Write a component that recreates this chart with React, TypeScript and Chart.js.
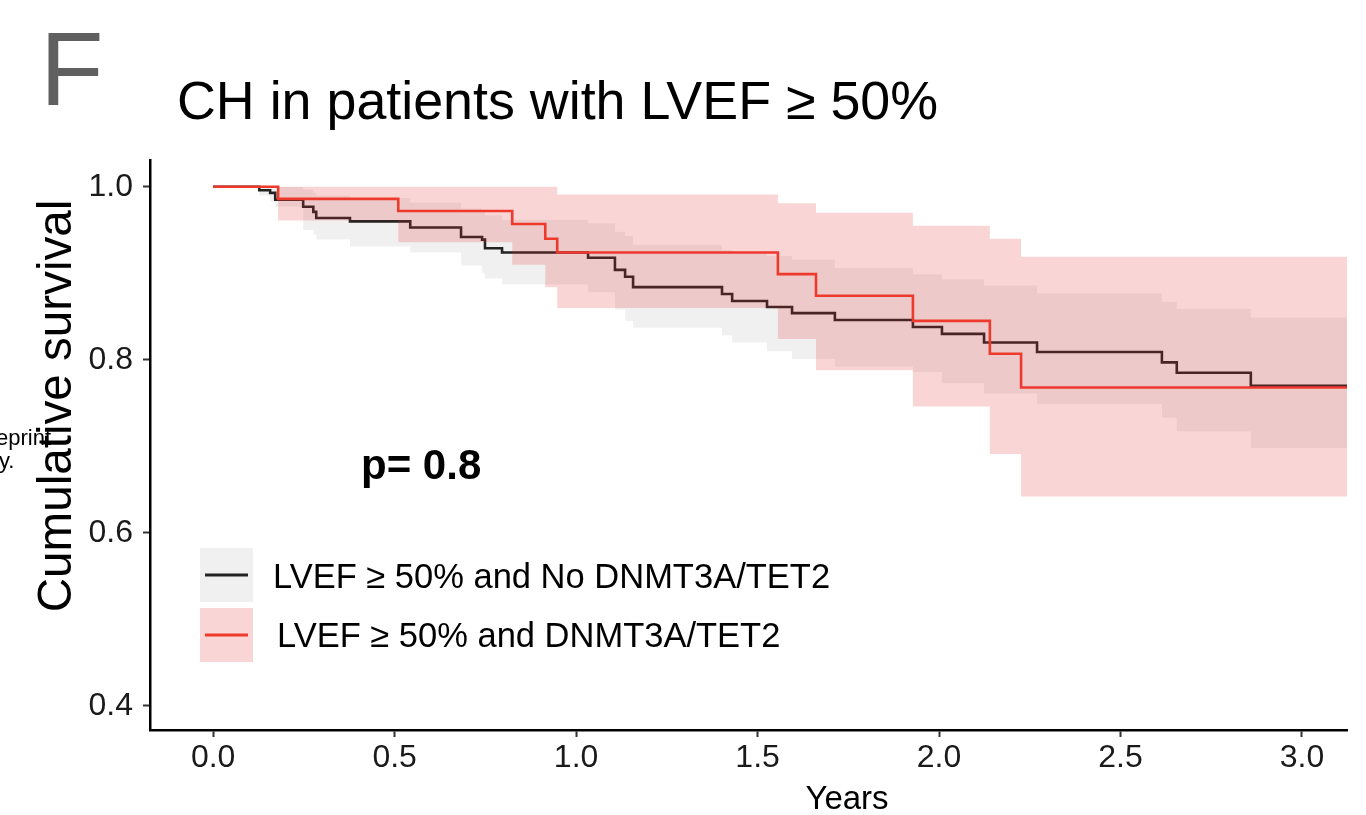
import React, { useEffect, useRef } from "react";
import { Chart, registerables } from "chart.js";

Chart.register(...registerables);

// ---- Data ----
// No DNMT3A/TET2 group (black)
const noTimes = [0, 0.127, 0.157, 0.171, 0.248, 0.276, 0.284, 0.377, 0.543, 0.683, 0.741, 0.749, 0.796, 1.033, 1.107, 1.135, 1.157, 1.402, 1.43, 1.526, 1.595, 1.713, 1.928, 2.008, 2.124, 2.27, 2.614, 2.655, 2.859];
const noSurv = [1, 0.996, 0.993, 0.985, 0.977, 0.971, 0.964, 0.96, 0.953, 0.942, 0.939, 0.929, 0.924, 0.918, 0.904, 0.896, 0.884, 0.876, 0.868, 0.861, 0.854, 0.846, 0.838, 0.83, 0.82, 0.809, 0.797, 0.785, 0.77];
const noUpper = [1, 1, 1, 1, 0.997, 0.993, 0.99, 0.987, 0.982, 0.975, 0.972, 0.967, 0.962, 0.958, 0.948, 0.943, 0.933, 0.927, 0.924, 0.92, 0.916, 0.906, 0.899, 0.893, 0.886, 0.877, 0.867, 0.859, 0.849];
const noLower = [1, 0.99, 0.983, 0.977, 0.95, 0.945, 0.939, 0.931, 0.924, 0.909, 0.9, 0.894, 0.887, 0.878, 0.858, 0.845, 0.837, 0.828, 0.82, 0.81, 0.801, 0.792, 0.786, 0.773, 0.761, 0.749, 0.733, 0.717, 0.698];

// DNMT3A/TET2 group (red)
const mutTimes = [0, 0.179, 0.51, 0.824, 0.915, 0.948, 1.556, 1.661, 1.928, 2.14, 2.226];
const mutSurv = [1, 0.986, 0.972, 0.957, 0.94, 0.924, 0.899, 0.874, 0.845, 0.807, 0.768];
const mutUpper = [1, 1, 1, 1, 1, 0.991, 0.981, 0.97, 0.955, 0.94, 0.919];
const mutLower = [1, 0.961, 0.936, 0.91, 0.884, 0.86, 0.824, 0.788, 0.746, 0.691, 0.642];

const followUpEnd = 3.124;
const xTicks = [0, 0.5, 1, 1.5, 2, 2.5, 3];
const yTicks = [0.4, 0.6, 0.8, 1.0];
const xRange = [-0.174, 3.124];
const yRange = [0.372, 1.031];

const titleText = "CH in patients with LVEF \u2265 50%";
const panelLabel = "F";
const yTitle = "Cumulative survival";
const xTitle = "Years";
const pText = "p= 0.8";
const legendLabels = ["LVEF \u2265 50% and No DNMT3A/TET2", "LVEF \u2265 50% and DNMT3A/TET2"];

const FONT = "'Liberation Sans', Arial, Helvetica, sans-serif";

const RED = "rgb(238,58,44)";
const BLACK = "rgb(35,35,35)";
const PINK = "rgba(232,45,45,0.2)";
const GREY = "rgba(0,0,0,0.06)";

function toPoints(times: number[], vals: number[]) {
  const pts = times.map((t, i) => ({ x: t, y: vals[i] }));
  pts.push({ x: followUpEnd, y: vals[vals.length - 1] });
  return pts;
}

const decorPlugin = {
  id: "decor",
  afterDraw(chart: any) {
    const ctx = chart.ctx as CanvasRenderingContext2D;
    ctx.save();
    // Panel label
    ctx.fillStyle = "#606060";
    ctx.font = `104px ${FONT}`;
    ctx.textAlign = "left";
    ctx.textBaseline = "alphabetic";
    ctx.fillText(panelLabel, 40, 105);
    // Title
    ctx.fillStyle = "#000";
    ctx.font = `53.8px ${FONT}`;
    ctx.fillText(titleText, 177, 119);
    // cut-off text at left edge
    ctx.font = `22px ${FONT}`;
    ctx.textAlign = "left";
    ctx.fillText("eprint", -4, 445);
    ctx.fillText("ly.", -6, 468);
    // Y title
    ctx.save();
    ctx.translate(58, 406);
    ctx.rotate(-Math.PI / 2);
    ctx.textAlign = "center";
    ctx.textBaseline = "middle";
    ctx.font = `47.6px ${FONT}`;
    ctx.fillText(yTitle, 0, 0);
    ctx.restore();
    // X title
    ctx.textAlign = "center";
    ctx.textBaseline = "middle";
    ctx.font = `33px ${FONT}`;
    ctx.fillText(xTitle, 847, 800);
    // p value
    ctx.textAlign = "left";
    ctx.font = `bold 42px ${FONT}`;
    ctx.fillText(pText, 361, 467);
    // Legend
    ctx.fillStyle = GREY;
    ctx.fillRect(200, 548, 53, 54);
    ctx.fillStyle = PINK;
    ctx.fillRect(200, 608, 53, 54);
    ctx.lineWidth = 3;
    ctx.strokeStyle = BLACK;
    ctx.beginPath();
    ctx.moveTo(205, 575);
    ctx.lineTo(248, 575);
    ctx.stroke();
    ctx.strokeStyle = RED;
    ctx.beginPath();
    ctx.moveTo(205, 635);
    ctx.lineTo(248, 635);
    ctx.stroke();
    ctx.fillStyle = "#000";
    ctx.font = `34.5px ${FONT}`;
    ctx.textBaseline = "middle";
    ctx.fillText(legendLabels[0], 273, 578);
    ctx.fillText(legendLabels[1], 277, 637);
    ctx.restore();
  },
};

export default function App() {
  const ref = useRef<HTMLCanvasElement | null>(null);

  useEffect(() => {
    if (!ref.current) return;
    const lineBase = { pointRadius: 0, stepped: true as const, tension: 0 };
    const chart = new Chart(ref.current, {
      type: "line",
      data: {
        datasets: [
          { ...lineBase, label: legendLabels[1], data: toPoints(mutTimes, mutSurv), borderColor: RED, borderWidth: 2.6, fill: false },
          { ...lineBase, label: "mutUpper", data: toPoints(mutTimes, mutUpper), borderWidth: 0, borderColor: "rgba(0,0,0,0)", backgroundColor: PINK, fill: "+1" },
          { ...lineBase, label: "mutLower", data: toPoints(mutTimes, mutLower), borderWidth: 0, borderColor: "rgba(0,0,0,0)", fill: false },
          { ...lineBase, label: legendLabels[0], data: toPoints(noTimes, noSurv), borderColor: BLACK, borderWidth: 2.6, fill: false },
          { ...lineBase, label: "noUpper", data: toPoints(noTimes, noUpper), borderWidth: 0, borderColor: "rgba(0,0,0,0)", backgroundColor: GREY, fill: "+1" },
          { ...lineBase, label: "noLower", data: toPoints(noTimes, noLower), borderWidth: 0, borderColor: "rgba(0,0,0,0)", fill: false },
        ],
      },
      options: {
        responsive: false,
        animation: false,
        events: [],
        layout: { padding: { top: 160, right: 19, left: 0, bottom: 0 } },
        plugins: {
          legend: { display: false },
          tooltip: { enabled: false },
          title: { display: false },
        },
        scales: {
          x: {
            type: "linear",
            min: xRange[0],
            max: xRange[1],
            afterBuildTicks: (s: any) => {
              s.ticks = xTicks.map((v) => ({ value: v }));
            },
            afterFit: (s: any) => {
              s.height = 85;
            },
            ticks: {
              callback: (v: any) => Number(v).toFixed(1),
              font: { size: 32, family: FONT },
              color: "#1a1a1a",
              padding: 2,
              maxRotation: 0,
              autoSkip: false,
            },
            grid: { drawOnChartArea: false, tickLength: 7, tickColor: "#333", tickWidth: 2 },
            border: { color: "#000", width: 2.5 },
          },
          y: {
            type: "linear",
            min: yRange[0],
            max: yRange[1],
            afterBuildTicks: (s: any) => {
              s.ticks = yTicks.map((v) => ({ value: v }));
            },
            afterFit: (s: any) => {
              s.width = 150;
            },
            ticks: {
              callback: (v: any) => Number(v).toFixed(1),
              font: { size: 32, family: FONT },
              color: "#1a1a1a",
              padding: 10,
            },
            grid: { drawOnChartArea: false, tickLength: 7, tickColor: "#333", tickWidth: 2 },
            border: { color: "#000", width: 2.5 },
          },
        },
      },
      plugins: [decorPlugin],
    } as any);
    return () => chart.destroy();
  }, []);

  return (
    <div style={{ position: "absolute", left: 0, top: 0, width: 1366, height: 815, background: "#fff" }}>
      <canvas ref={ref} width={1366} height={815} style={{ display: "block" }} />
    </div>
  );
}
